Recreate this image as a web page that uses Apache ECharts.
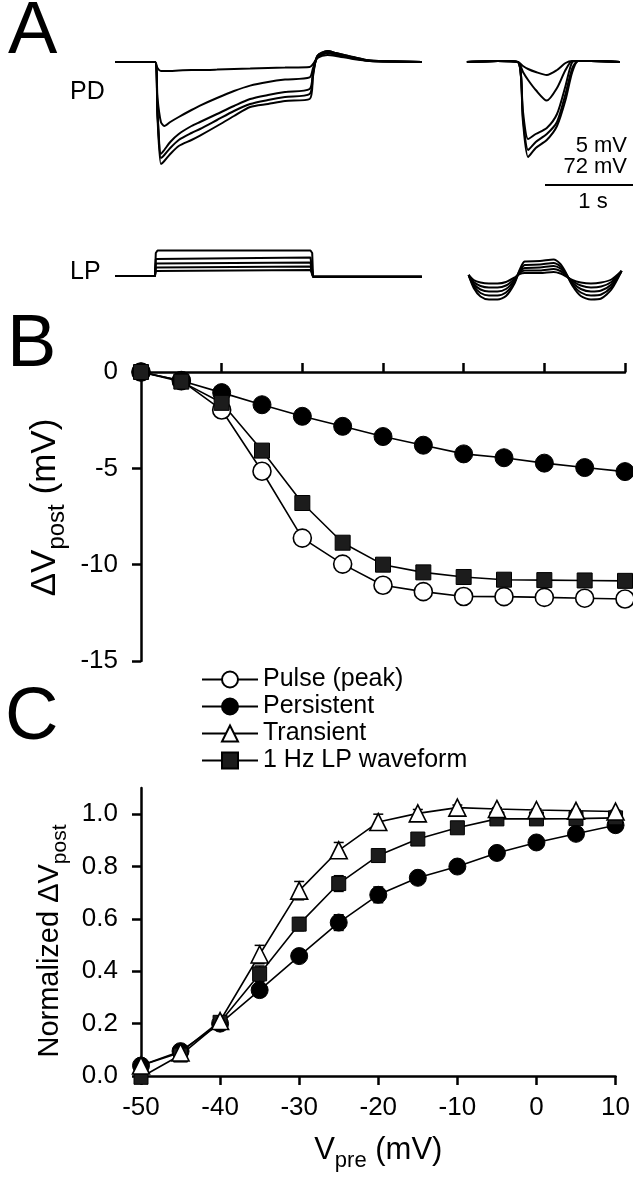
<!DOCTYPE html>
<html><head><meta charset="utf-8">
<script src="https://cdn.jsdelivr.net/npm/echarts@6/dist/echarts.min.js"></script>
<style>html,body{margin:0;padding:0;background:#fff}#c{width:633px;height:1179px}</style>
</head><body><div id="c"></div>
<script>
// ---------- Panel A traces (time in s, voltage relative to baseline) ----------
const tPD = [0, 0.47, 0.50, 0.54, 0.58, 0.65, 0.75, 0.9, 1.0, 1.2, 1.4, 1.59, 1.8, 2.0, 2.29, 2.33, 2.38, 2.5, 2.6, 2.8, 3.0, 3.3, 3.61];
const pd1 = [0, 0, -0.3, -0.45, -0.45, -0.45, -0.42, -0.4, -0.4, -0.38, -0.35, -0.33, -0.3, -0.28, -0.25, -0.1, 0.2, 0.35, 0.3, 0.15, 0.05, 0.02, 0];
const pd2 = [0, 0, -1.8, -3.0, -3.2, -3.0, -2.75, -2.4, -2.18, -1.8, -1.45, -1.18, -1.0, -0.88, -0.77, -0.3, 0.2, 0.45, 0.35, 0.2, 0.05, 0.02, 0];
const pd3 = [0, 0, -2.5, -4.6, -4.4, -4.0, -3.6, -3.2, -3.0, -2.6, -2.2, -1.85, -1.65, -1.5, -1.35, -0.5, 0.25, 0.5, 0.4, 0.2, 0.06, 0.02, 0];
const pd4 = [0, 0, -2.6, -4.8, -4.65, -4.3, -3.9, -3.55, -3.35, -2.9, -2.45, -2.1, -1.9, -1.75, -1.6, -0.6, 0.3, 0.55, 0.45, 0.25, 0.08, 0.02, 0];
const pd5 = [0, 0, -2.8, -5.1, -4.95, -4.6, -4.2, -3.9, -3.68, -3.2, -2.7, -2.25, -2.1, -1.95, -1.85, -0.7, 0.3, 0.55, 0.45, 0.25, 0.08, 0.02, 0];

const tPDR = [4.14, 4.5, 4.74, 4.80, 4.86, 4.95, 5.08, 5.2, 5.3, 5.38, 5.45, 5.6, 5.94];
const pdr1 = [0, 0.05, 0, -0.2, -0.35, -0.5, -0.65, -0.4, -0.05, 0.05, 0.05, 0.05, 0];
const pdr2 = [0, 0.05, 0, -0.5, -0.9, -1.4, -1.93, -1.3, -0.4, 0.05, 0.05, 0.05, 0];
const pdr3 = [0, 0.05, 0, -2.5, -3.85, -3.6, -3.3, -2.6, -1.2, 0, 0.05, 0.05, 0];
const pdr4 = [0, 0.05, 0, -2.8, -4.4, -4.0, -3.6, -3.0, -1.6, -0.3, 0.05, 0.05, 0];
const pdr5 = [0, 0.05, 0, -3.0, -4.75, -4.3, -3.9, -3.2, -1.9, -0.5, 0.05, 0.05, 0];

const tLP = [0, 0.47, 0.48, 0.50, 2.30, 2.32, 2.33, 3.61];
const lp1 = [0, 0, 4.6, 5.1, 5.1, 4.6, -0.15, -0.15];
const lp2 = [0, 0, 3.4, 3.7, 3.7, 3.4, -0.15, -0.15];
const lp3 = [0, 0, 2.5, 2.7, 2.7, 2.5, -0.15, -0.15];
const lp4 = [0, 0, 1.7, 1.9, 1.9, 1.7, -0.15, -0.15];
const lp5 = [0, 0, 1.0, 1.2, 1.2, 1.0, -0.15, -0.15];

const tLPR = [4.16, 4.22, 4.30, 4.40, 4.50, 4.60, 4.70, 4.76, 4.82, 5.00, 5.16, 5.24, 5.30, 5.38, 5.48, 5.60, 5.72, 5.84, 5.96];
const lpr1 = [0.2, -0.8, -1.3, -1.5, -1.5, -1.2, -0.3, 0.4, 0.6, 0.6, 0.8, 0.5, 0.0, -0.8, -1.3, -1.5, -1.3, -0.7, 1.0];
const lpr2 = [0.2, -1.2, -2.0, -2.3, -2.3, -1.9, -0.6, 0.6, 1.1, 1.1, 1.4, 1.0, 0.2, -1.0, -1.9, -2.3, -2.1, -1.2, 1.0];
const lpr3 = [0.2, -1.6, -2.7, -3.1, -3.1, -2.6, -0.9, 0.8, 1.6, 1.7, 2.0, 1.5, 0.4, -1.3, -2.6, -3.1, -2.9, -1.7, 1.0];
const lpr4 = [0.2, -2.0, -3.4, -3.9, -3.9, -3.3, -1.2, 1.0, 2.2, 2.3, 2.6, 1.9, 0.6, -1.6, -3.3, -3.9, -3.7, -2.2, 1.0];
const lpr5 = [0.2, -2.4, -4.1, -4.7, -4.7, -4.0, -1.5, 1.2, 2.9, 3.0, 3.3, 2.4, 0.8, -1.9, -4.0, -4.7, -4.5, -2.7, 1.0];

// ---------- Panel B / C ----------
const vpre = [-50, -45, -40, -35, -30, -25, -20, -15, -10, -5, 0, 5, 10];
const bPulse = [0, -0.45, -1.97, -5.15, -8.62, -9.97, -11.07, -11.4, -11.65, -11.66, -11.7, -11.74, -11.78];
const bPersistent = [0, -0.45, -1.07, -1.7, -2.3, -2.82, -3.35, -3.8, -4.25, -4.45, -4.73, -4.96, -5.17];
const bLP = [0, -0.5, -1.6, -4.08, -6.8, -8.86, -10.0, -10.4, -10.64, -10.78, -10.8, -10.82, -10.84];

const cTransient = [0.04, 0.09, 0.21, 0.464, 0.708, 0.862, 0.97, 1.003, 1.025, 1.02, 1.016, 1.013, 1.01];
const cTransientErr = [0, 0, 0.01, 0.035, 0.035, 0.03, 0.03, 0.015, 0.01, 0.005, 0.005, 0.005, 0.005];
const cPersistent = [0.04, 0.095, 0.2, 0.328, 0.458, 0.586, 0.692, 0.757, 0.80, 0.852, 0.892, 0.925, 0.958];
const cPersistentErr = [0.005, 0.01, 0.015, 0.015, 0.02, 0.03, 0.03, 0.02, 0.01, 0.005, 0.005, 0.005, 0.005];
const cLP = [-0.005, 0.08, 0.205, 0.39, 0.58, 0.735, 0.842, 0.905, 0.948, 0.982, 0.982, 0.983, 0.986];
const cLPErr = [0.005, 0.01, 0.015, 0.03, 0.025, 0.03, 0.015, 0.01, 0.01, 0.005, 0.005, 0.005, 0.005];

const xTicks = [-50, -40, -30, -20, -10, 0, 10];
const cYTicks = [0, 0.2, 0.4, 0.6, 0.8, 1.0];
const legendNames = ['Pulse (peak)', 'Persistent', 'Transient', '1 Hz LP waveform'];

const FONT = 'Liberation Sans, Arial, Helvetica, sans-serif';
const K = '#000';
const chart = echarts.init(document.getElementById('c'), null, {renderer: 'canvas'});

function pairs(xs, ys) { return xs.map((x, i) => [x, ys[i]]); }
function trace(xi, xs, ys) {
  return {type: 'line', xAxisIndex: xi, yAxisIndex: xi, data: pairs(xs, ys), showSymbol: false,
    symbol: 'none', silent: true, smooth: 0.25, lineStyle: {color: K, width: 2}, clip: false};
}
const openCircle = {color: '#fff', borderColor: K, borderWidth: 1.6};
const solid = {color: K, borderColor: K, borderWidth: 1};
const sq = {color: '#1c1c1c', borderColor: K, borderWidth: 1};
function dataSeries(name, ai, ys, symbol, size, itemStyle) {
  return {type: 'line', name: name, xAxisIndex: ai, yAxisIndex: ai, data: pairs(vpre, ys),
    symbol: symbol, symbolSize: size, showAllSymbol: true, itemStyle: itemStyle,
    lineStyle: {color: K, width: 1.6}, clip: false, z: 3};
}
function errSeries(vals, errs) {
  return {type: 'custom', xAxisIndex: 3, yAxisIndex: 3, silent: true, z: 1, clip: false,
    data: vpre.map((x, i) => [x, vals[i] - errs[i], vals[i] + errs[i]]),
    renderItem(params, api) {
      const lo = api.coord([api.value(0), api.value(1)]);
      const hi = api.coord([api.value(0), api.value(2)]);
      const w = 5, st = {stroke: K, lineWidth: 1.5};
      return {type: 'group', children: [
        {type: 'line', shape: {x1: lo[0], y1: lo[1], x2: hi[0], y2: hi[1]}, style: st},
        {type: 'line', shape: {x1: hi[0] - w, y1: hi[1], x2: hi[0] + w, y2: hi[1]}, style: st},
        {type: 'line', shape: {x1: lo[0] - w, y1: lo[1], x2: lo[0] + w, y2: lo[1]}, style: st}
      ]};
    }};
}

const axisLine = {show: true, onZero: false, lineStyle: {color: K, width: 2.5}};
const tick = {show: true, length: 9, lineStyle: {color: K, width: 2.5}};
const lbl = {color: K, fontSize: 26, fontFamily: FONT};
function rich(n, s, pad) {
  return {
    n: {fontSize: n, fontFamily: FONT, color: K},
    s: {fontSize: s, fontFamily: FONT, color: K, verticalAlign: 'bottom', padding: [pad, 0, 0, 0]}
  };
}

function txt(text, x, y, size, align) {
  return {type: 'text', x: x, y: y, silent: true,
    style: {text: text, fill: K, font: size + 'px ' + FONT, textAlign: align || 'left', textVerticalAlign: 'middle'}};
}

const option = {
  animation: false,
  backgroundColor: '#fff',
  grid: [
    {left: 115, top: 42, width: 510, height: 140},
    {left: 115, top: 226, width: 510, height: 90},
    {left: 141, top: 372, width: 484, height: 289},
    {left: 141, top: 788, width: 484, height: 288}
  ],
  xAxis: [
    {gridIndex: 0, type: 'value', min: 0, max: 6, show: false},
    {gridIndex: 1, type: 'value', min: 0, max: 6, show: false},
    {gridIndex: 2, type: 'value', min: -50, max: 10, interval: 10, position: 'top',
      axisLine: axisLine, axisTick: tick, axisLabel: {show: false}, splitLine: {show: false}},
    {gridIndex: 3, type: 'value', min: -50, max: 10, interval: 10, position: 'bottom',
      axisLine: axisLine, axisTick: tick, splitLine: {show: false},
      axisLabel: Object.assign({margin: 19}, lbl),
      name: '{n|V}{s|pre}{n| (mV)}', nameLocation: 'middle', nameGap: 52,
      nameTextStyle: {rich: rich(31, 22, 22)}}
  ],
  yAxis: [
    {gridIndex: 0, type: 'value', min: -6, max: 1, show: false},
    {gridIndex: 1, type: 'value', min: -8, max: 10, show: false},
    {gridIndex: 2, type: 'value', min: -15, max: 0, interval: 5,
      axisLine: axisLine, axisTick: tick, splitLine: {show: false},
      axisLabel: Object.assign({margin: 23}, lbl),
      name: '{n|ΔV}{s|post}{n| (mV)}', nameLocation: 'middle', nameGap: 35, nameRotate: 90,
      nameTextStyle: {rich: rich(35, 24, 24), padding: [0, 0, 0, 18]}},
    {gridIndex: 3, type: 'value', min: 0, max: 1.1,
      axisLine: axisLine, splitLine: {show: false},
      axisTick: Object.assign({customValues: cYTicks}, tick),
      axisLabel: Object.assign({margin: 23, customValues: cYTicks, formatter: v => v.toFixed(1)}, lbl),
      name: '{n|Normalized ΔV}{s|post}', nameLocation: 'middle', nameGap: 59, nameRotate: 90,
      nameTextStyle: {rich: rich(29, 21, 21), padding: [0, 18, 0, 0]}}
  ],
  legend: {
    data: legendNames, orient: 'vertical', left: 196, top: 662, itemGap: 2,
    itemWidth: 56, itemHeight: 20, selectedMode: false,
    textStyle: {color: K, fontSize: 25, fontFamily: FONT}
  },
  graphic: [
    txt('A', 8, 33, 74), txt('B', 7, 346, 74), txt('C', 5, 719, 74),
    txt('PD', 70, 92, 25), txt('LP', 70, 272, 25),
    txt('5 mV', 627, 146, 22, 'right'), txt('72 mV', 627, 167, 22, 'right'), txt('1 s', 593, 202, 22, 'center'),
    {type: 'line', silent: true, shape: {x1: 545, y1: 185, x2: 633, y2: 185}, style: {stroke: K, lineWidth: 2}}
  ],
  series: [
    trace(0, tPD, pd1), trace(0, tPD, pd2), trace(0, tPD, pd3), trace(0, tPD, pd4), trace(0, tPD, pd5),
    trace(0, tPDR, pdr1), trace(0, tPDR, pdr2), trace(0, tPDR, pdr3), trace(0, tPDR, pdr4), trace(0, tPDR, pdr5),
    Object.assign(trace(1, tLP, lp1), {smooth: false}), Object.assign(trace(1, tLP, lp2), {smooth: false}),
    Object.assign(trace(1, tLP, lp3), {smooth: false}), Object.assign(trace(1, tLP, lp4), {smooth: false}),
    Object.assign(trace(1, tLP, lp5), {smooth: false}),
    trace(1, tLPR, lpr1), trace(1, tLPR, lpr2), trace(1, tLPR, lpr3), trace(1, tLPR, lpr4), trace(1, tLPR, lpr5),
    dataSeries('Pulse (peak)', 2, bPulse, 'circle', 18, openCircle),
    dataSeries('Persistent', 2, bPersistent, 'circle', 18, solid),
    dataSeries('1 Hz LP waveform', 2, bLP, 'rect', 15, sq),
    errSeries(cTransient, cTransientErr), errSeries(cPersistent, cPersistentErr), errSeries(cLP, cLPErr),
    dataSeries('Persistent', 3, cPersistent, 'circle', 17, solid),
    dataSeries('1 Hz LP waveform', 3, cLP, 'rect', 14, sq),
    dataSeries('Transient', 3, cTransient, 'triangle', 17, openCircle)
  ]
};
chart.setOption(option);
</script></body></html>
